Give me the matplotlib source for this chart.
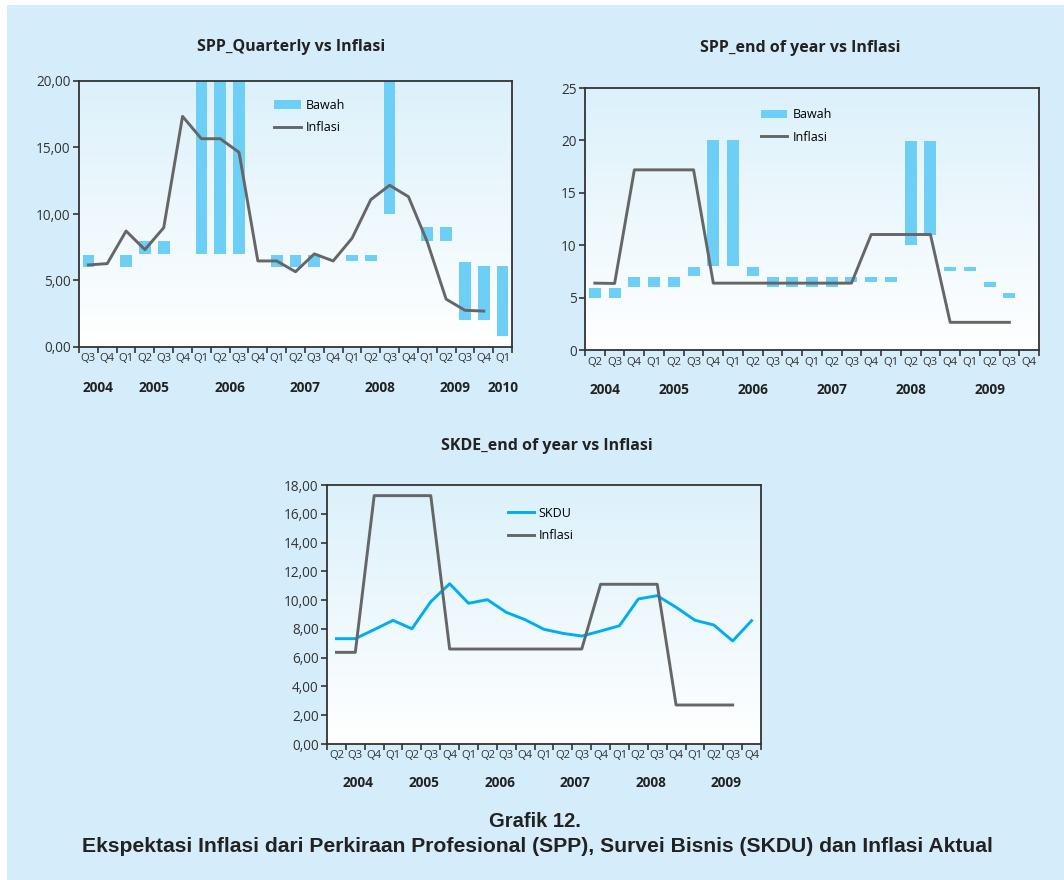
import numpy as np
import matplotlib
matplotlib.use("Agg")
import matplotlib.pyplot as plt
from matplotlib.patches import Rectangle
from matplotlib.transforms import blended_transform_factory

nan = np.nan

# --- data -------------------------------------------------------------
# SPP_Quarterly vs Inflasi (Q3 2004 .. Q1 2010)
q_spp_quarterly = ['Q3', 'Q4', 'Q1', 'Q2', 'Q3', 'Q4', 'Q1', 'Q2', 'Q3', 'Q4', 'Q1', 'Q2',
                   'Q3', 'Q4', 'Q1', 'Q2', 'Q3', 'Q4', 'Q1', 'Q2', 'Q3', 'Q4', 'Q1']
bawah_low_1 = [6.0, nan, 6.0, 7.0, 7.0, nan, 7.0, 7.0, 7.0, nan, 6.0, 6.0,
               6.0, nan, 6.5, 6.5, 10.0, nan, 8.0, 8.0, 2.0, 2.0, 0.8]
bawah_high_1 = [6.9, nan, 6.9, 8.0, 8.0, nan, 20.0, 20.0, 20.0, nan, 6.9, 6.9,
                6.9, nan, 6.9, 6.9, 20.0, nan, 9.0, 9.0, 6.4, 6.1, 6.1]
inflasi_1 = [6.17, 6.27, 8.72, 7.32, 8.97, 17.34, 15.66, 15.66, 14.64, 6.47, 6.47, 5.66,
             7.0, 6.47, 8.17, 11.08, 12.16, 11.3, 7.9, 3.6, 2.76, 2.7, nan]

# SPP_end of year vs Inflasi (Q2 2004 .. Q4 2009)
q_spp_eoy = ['Q2', 'Q3', 'Q4', 'Q1', 'Q2', 'Q3', 'Q4', 'Q1', 'Q2', 'Q3', 'Q4', 'Q1',
             'Q2', 'Q3', 'Q4', 'Q1', 'Q2', 'Q3', 'Q4', 'Q1', 'Q2', 'Q3', 'Q4']
bawah_low_2 = [5.0, 5.0, 6.0, 6.0, 6.0, 7.1, 8.0, 8.0, 7.1, 6.0, 6.0, 6.0,
               6.0, 6.45, 6.45, 6.45, 10.0, 11.0, 7.55, 7.55, 6.05, 5.0, nan]
bawah_high_2 = [5.9, 5.9, 7.0, 7.0, 7.0, 7.9, 20.0, 20.0, 7.9, 7.0, 7.0, 7.0,
                7.0, 7.0, 7.0, 7.0, 19.9, 19.9, 7.9, 7.9, 6.5, 5.45, nan]
inflasi_2 = [6.38, 6.35, 17.19, 17.19, 17.19, 17.19, 6.38, 6.38, 6.38, 6.38, 6.38, 6.38,
             6.38, 6.38, 11.02, 11.02, 11.02, 11.02, 2.64, 2.64, 2.64, 2.64, nan]

# SKDE_end of year vs Inflasi (Q2 2004 .. Q4 2009)
q_skdu = q_spp_eoy
skdu = [7.32, 7.32, 7.95, 8.59, 8.01, 9.89, 11.14, 9.78, 10.03, 9.15, 8.64, 7.97,
        7.69, 7.5, 7.85, 8.22, 10.08, 10.31, 9.5, 8.6, 8.27, 7.16, 8.57]
inflasi_3 = [6.37, 6.37, 17.26, 17.26, 17.26, 17.26, 6.6, 6.6, 6.6, 6.6, 6.6, 6.6,
             6.6, 6.6, 11.1, 11.1, 11.1, 11.1, 2.71, 2.71, 2.71, 2.71, nan]

# --- style ------------------------------------------------------------
W, H = 1064, 880
BG = '#d5edfa'
BAR = '#6dcff6'
GREY = '#666666'
CYAN = '#00aeef'
plt.rcParams['font.family'] = ['Open Sans', 'DejaVu Sans']

fig = plt.figure(figsize=(W / 100, H / 100), dpi=100, facecolor='white')
fig.patches.append(Rectangle((7 / W, 0), 1, 1 - 5 / H, transform=fig.transFigure,
                             facecolor=BG, edgecolor='none', zorder=-10))


def make_axes(left, top, right, bottom):
    return fig.add_axes([left / W, 1 - bottom / H, (right - left) / W, (bottom - top) / H])


def dress(ax, quarters, ymax, ystep, fmt, year_shift, q_off, y_off):
    n = len(quarters)
    x = np.arange(n)
    ax.set_xlim(-0.5, n - 0.5)
    ax.set_ylim(0, ymax)
    # gradient plot background
    grad = np.linspace(0, 1, 256).reshape(-1, 1)
    cmap = matplotlib.colors.LinearSegmentedColormap.from_list('g', ['#ffffff', '#dcf1fb'])
    ax.imshow(grad, extent=[0, 1, 0, 1], transform=ax.transAxes, cmap=cmap,
              aspect='auto', origin='lower', zorder=0)
    for s in ax.spines.values():
        s.set_color('#333333')
        s.set_linewidth(1.3)
    yt = np.arange(0, ymax + 0.001, ystep)
    ax.set_yticks(yt)
    ax.set_yticklabels([fmt(v) for v in yt])
    ax.set_xticks(np.arange(-0.5, n), minor=False)
    ax.set_xticklabels([])
    ax.set_xticks(x, minor=True)
    ax.set_xticklabels(quarters, minor=True)
    ax.tick_params(axis='x', which='major', direction='out', length=4, width=1.2, color='#333333')
    ax.tick_params(axis='x', which='minor', length=0, pad=q_off, labelsize=8.1, labelcolor='#333333')
    ax.tick_params(axis='y', direction='out', length=4, width=1.2, color='#333333',
                   labelsize=9.8, labelcolor='#333333', pad=2)
    # year group labels
    tr = blended_transform_factory(ax.transData, ax.transAxes)
    ax_h = ax.get_position().height * H
    year = 2004
    groups = {}
    for i, q in enumerate(quarters):
        if q == 'Q1' and i > 0:
            year += 1
        groups.setdefault(year, []).append(i)
    for yr, idx in groups.items():
        ax.text(np.mean(idx) + year_shift, -y_off / ax_h, str(yr), transform=tr,
                ha='center', va='center', fontsize=9.8, fontweight='bold', color='#222222')
    return x


comma2 = lambda v: f'{v:.2f}'.replace('.', ',')
intfmt = lambda v: f'{v:.0f}'
leg_kw = dict(loc='upper left', frameon=False, fontsize=9, handlelength=2.1,
              labelspacing=0.75, handletextpad=0.4)

# --- chart 1 ----------------------------------------------------------
ax1 = make_axes(79, 81, 512, 347)
x1 = dress(ax1, q_spp_quarterly, 20, 5, comma2, 0.0, 4, 41)
lo = np.array(bawah_low_1)
hi = np.array(bawah_high_1)
b1 = ax1.bar(x1, hi - lo, bottom=lo, width=0.62, color=BAR, zorder=2, label='Bawah')
l1, = ax1.plot(x1, inflasi_1, color=GREY, lw=2.1, zorder=3, label='Inflasi')
ax1.legend(handles=[b1, l1], bbox_to_anchor=(0.425, 0.975), **leg_kw)
fig.text(291 / W, 1 - 47 / H, 'SPP_Quarterly vs Inflasi', ha='center', va='center',
         fontsize=11.5, fontweight='bold', color='#222222')

# --- chart 2 ----------------------------------------------------------
ax2 = make_axes(585, 88, 1039, 350)
x2 = dress(ax2, q_spp_eoy, 25, 5, intfmt, -0.5, 5, 40)
lo = np.array(bawah_low_2)
hi = np.array(bawah_high_2)
b2 = ax2.bar(x2, hi - lo, bottom=lo, width=0.61, color=BAR, zorder=2, label='Bawah')
l2, = ax2.plot(x2, inflasi_2, color=GREY, lw=2.1, zorder=3, label='Inflasi')
ax2.legend(handles=[b2, l2], bbox_to_anchor=(0.363, 0.965), **leg_kw)
fig.text(800 / W, 1 - 48 / H, 'SPP_end of year vs Inflasi', ha='center', va='center',
         fontsize=11.5, fontweight='bold', color='#222222')

# --- chart 3 ----------------------------------------------------------
ax3 = make_axes(327, 485, 761, 744)
x3 = dress(ax3, q_skdu, 18, 2, comma2, 0.15, 4, 39)
ls, = ax3.plot(x3, skdu, color=CYAN, lw=2.1, zorder=3, label='SKDU')
l3, = ax3.plot(x3, inflasi_3, color=GREY, lw=2.1, zorder=3, label='Inflasi')
ax3.legend(handles=[ls, l3], bbox_to_anchor=(0.39, 0.96), **leg_kw)
fig.text(547 / W, 1 - 446 / H, 'SKDE_end of year vs Inflasi', ha='center', va='center',
         fontsize=11.5, fontweight='bold', color='#222222')

# --- caption ----------------------------------------------------------
cap_font = ['Liberation Sans Narrow', 'Liberation Sans', 'DejaVu Sans']
fig.text(535 / W, 1 - 821 / H, 'Grafik 12.', ha='center', va='center', family=cap_font,
         fontsize=14.5, fontweight='bold', color='#222222')
fig.text(537 / W, 1 - 846 / H,
         'Ekspektasi Inflasi dari Perkiraan Profesional (SPP), Survei Bisnis (SKDU) dan Inflasi Aktual',
         ha='center', va='center', family=cap_font, fontsize=15.2, fontweight='bold', color='#222222')

fig.savefig('out.png', dpi=100, facecolor=fig.get_facecolor())
